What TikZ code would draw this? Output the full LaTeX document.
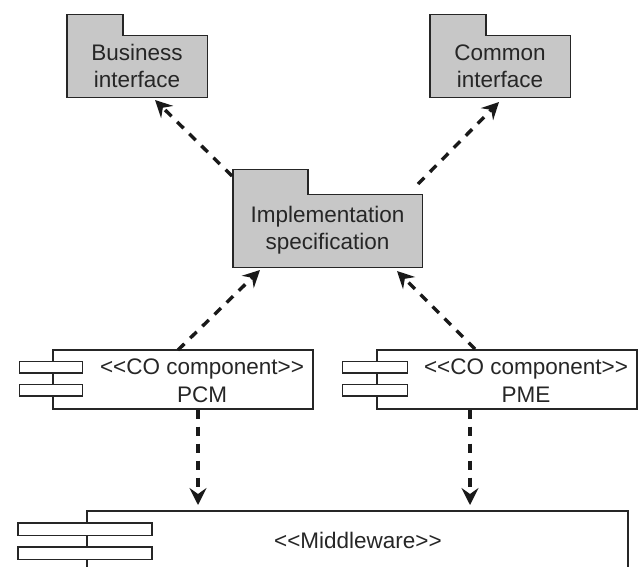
\documentclass[tikz,border=0pt]{standalone}
\usepackage{fontspec}
\setmainfont{Liberation Sans}
\usetikzlibrary{arrows.meta,calc}
\newcommand\stereo[1]{<\kern0pt<#1>\kern0pt>}
\begin{document}
\begin{tikzpicture}[x=1pt, y=-1pt, line join=miter,
	pkg/.style={fill=black!22, inner sep=0pt, align=center,
		font=\fontsize{22.5}{27}\selectfont, text=black!85},
	pkgline/.style={draw=black!85, line width=1.4pt},
	comp/.style={draw=black!85, line width=1.4pt, minimum width=260pt, minimum height=59pt, inner sep=0pt},
	bar/.style={draw=black!85, fill=white, line width=1.4pt},
	lbl/.style={align=center, inner sep=0pt, font=\fontsize{22.5}{28}\selectfont, text=black!85},
	dep/.style={draw=black!90, line width=3.4pt, dash pattern=on 9pt off 8pt,
		-{Stealth[length=17pt, width=17pt, inset=6pt]}}]
	\useasboundingbox (0,0) rectangle (640,566);
	\clip (0,0) rectangle (640,566);
	% Packages (body + tab)
	\node[pkg, minimum width=140pt, minimum height=62pt] (bus) at (137,66) {Business\\interface};
	\fill[black!22] (bus.north west) rectangle ++(56,-21);
	\draw[pkgline] (bus.south west) -- ++(0,-83) -- ++(56,0) -- ++(0,21) -| (bus.south east) -- cycle;
	\node[pkg, minimum width=140pt, minimum height=62pt] (com) at (500,66) {Common\\interface};
	\fill[black!22] (com.north west) rectangle ++(56,-21);
	\draw[pkgline] (com.south west) -- ++(0,-83) -- ++(56,0) -- ++(0,21) -| (com.south east) -- cycle;
	\node[pkg, minimum width=189pt, minimum height=73pt] (impl) at (327.5,230.5) {Implementation\\specification};
	\fill[black!22] (impl.north west) rectangle ++(75,-25);
	\draw[pkgline] (impl.south west) -- ++(0,-98) -- ++(75,0) -- ++(0,25) -| (impl.south east) -- cycle;
	% Components
	\node[comp] (pcm) at (183,379.5) {};
	\foreach \y in {12,35}
		\draw[bar] ($(pcm.north west)+(-33,\y)$) rectangle ++(63,11.5);
	\node[lbl] (pcmtxt) at (202,381) {\stereo{CO component}\\PCM};
	\node[comp] (pme) at (507,379.5) {};
	\foreach \y in {12,35}
		\draw[bar] ($(pme.north west)+(-34,\y)$) rectangle ++(65,11.5);
	\node[lbl] (pmetxt) at (526,381) {\stereo{CO component}\\PME};
	% Middleware (runs off the bottom)
	\draw[comp] (87,570) |- (628,511) -- (628,570);
	\foreach \y in {523,547}
		\draw[bar] (18,\y) rectangle ++(134,12.5);
	\node[lbl] (mw) at (358,540) {\stereo{Middleware}};
	% Connector ends
	\coordinate (i1) at (232,176);
	\coordinate (i2) at (418,184);
	\coordinate (b1) at (155,100);
	\coordinate (c1) at (499,102);
	\coordinate (p1) at (178,350);
	\coordinate (p2) at (475,349);
	\coordinate (u1) at (260,270);
	\coordinate (u2) at (397,271);
	\coordinate (m1) at (198,505);
	\coordinate (m2) at (470,505);
	% Dependencies
	\draw[dep] (i1) -- (b1);
	\draw[dep] (i2) -- (c1);
	\draw[dep] (p1) -- (u1);
	\draw[dep] (p2) -- (u2);
	\draw[dep] (pcm.south -| m1) -- (m1);
	\draw[dep] (pme.south -| m2) -- (m2);
\end{tikzpicture}
\end{document}
